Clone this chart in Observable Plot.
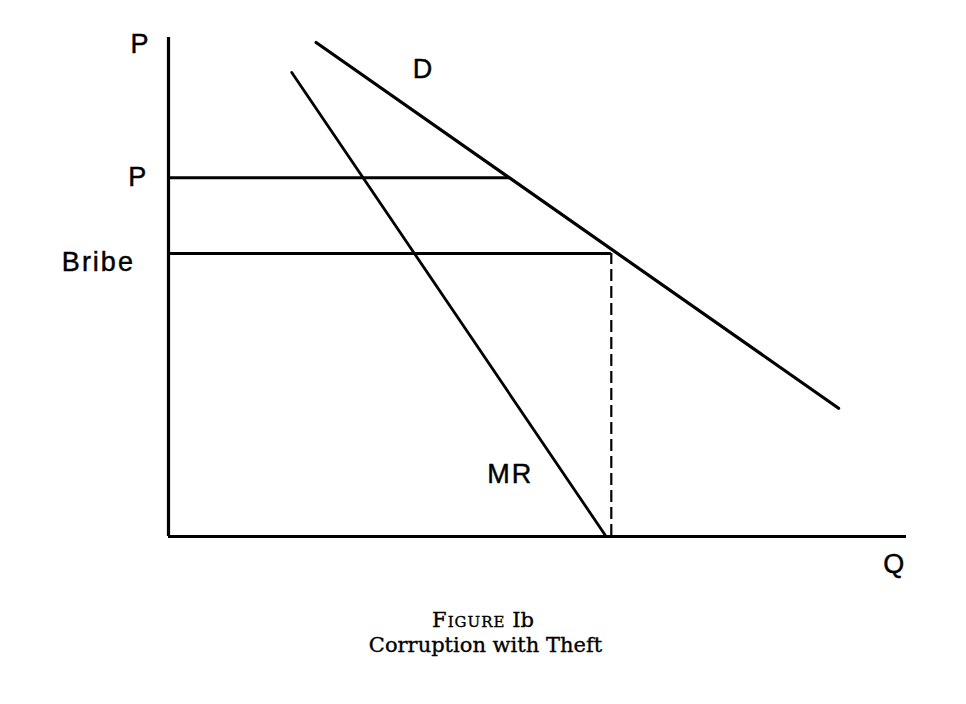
<!DOCTYPE html>
<html>
<head>
<meta charset="utf-8">
<script src="https://cdn.jsdelivr.net/npm/d3@7"></script>
<script src="https://cdn.jsdelivr.net/npm/@observablehq/plot@0.6"></script>
<style>
  html, body { margin: 0; padding: 0; background: #fff; }
  #wrap { position: relative; width: 966px; height: 704px; background: #fff; }
  #caption { position: absolute; left: 0; top: 608px; width: 966px; text-align: center;
             font-family: "DejaVu Serif", "Liberation Serif", serif; font-size: 21px; line-height: 25px; color: #000;
             -webkit-text-stroke: 0.35px #000; }
  #caption .sc { font-variant: small-caps; letter-spacing: 1px; }
  #caption .l2 { padding-left: 5px; }
</style>
</head>
<body>
<div id="wrap"><div id="chart"></div>
<div id="caption"><div class="l1"><span class="sc">Figure</span> Ib</div><div class="l2">Corruption with Theft</div></div></div>
<script>
// Demand curve D (quantity, price)
const demandQ = [2.0, 9.08];
const demandP = [9.9, 2.57];
// Marginal revenue curve MR
const mrQ = [1.67, 5.93];
const mrP = [9.3, 0];
// Price level P and the quantity where it meets D
const priceLevel = 7.19;
const priceQ = 4.63;
// Bribe level and its quantity (where it meets D)
const bribeLevel = 5.67;
const bribeQ = 6.0;
// Labels
const labelText = ["P", "P", "Bribe", "D", "MR", "Q"];
const labelQ = [-0.38, -0.41, -0.95, 3.455, 4.63, 9.84];
const labelP = [9.86, 7.19, 5.49, 9.36, 1.24, -0.56];

const demand = demandQ.map((q, i) => ({q, p: demandP[i]}));
const mr = mrQ.map((q, i) => ({q, p: mrP[i]}));
const labels = labelText.map((t, i) => ({t, q: labelQ[i], p: labelP[i]}));

const chart = Plot.plot({
  width: 966,
  height: 600,
  marginLeft: 168,
  marginRight: 60,
  marginTop: 37,
  marginBottom: 64,
  x: {domain: [0, 10], axis: null},
  y: {domain: [0, 10], axis: null},
  style: {background: "#fff", overflow: "visible"},
  marks: [
    Plot.ruleX([0], {stroke: "#000", strokeWidth: 3.2}),
    Plot.ruleY([0], {stroke: "#000", strokeWidth: 3.2}),
    Plot.ruleY([priceLevel], {x1: 0, x2: priceQ, stroke: "#000", strokeWidth: 3}),
    Plot.ruleY([bribeLevel], {x1: 0, x2: bribeQ, stroke: "#000", strokeWidth: 3}),
    Plot.ruleX([bribeQ], {y1: 0, y2: bribeLevel, stroke: "#000", strokeWidth: 2.2, strokeDasharray: "12,5"}),
    Plot.line(demand, {x: "q", y: "p", stroke: "#000", strokeWidth: 3.2}),
    Plot.line(mr, {x: "q", y: "p", stroke: "#000", strokeWidth: 2.8}),
    Plot.text(labels, {x: "q", y: "p", text: "t", fontSize: 27, fontFamily: "Liberation Sans, Arial, sans-serif",
      fill: "#000", stroke: "#000", strokeWidth: 0.45, textAnchor: "middle", lineAnchor: "middle"})
  ]
});
document.getElementById("chart").appendChild(chart);
chart.querySelectorAll("text").forEach(t => t.style.letterSpacing = "2px");
</script>
</body>
</html>
